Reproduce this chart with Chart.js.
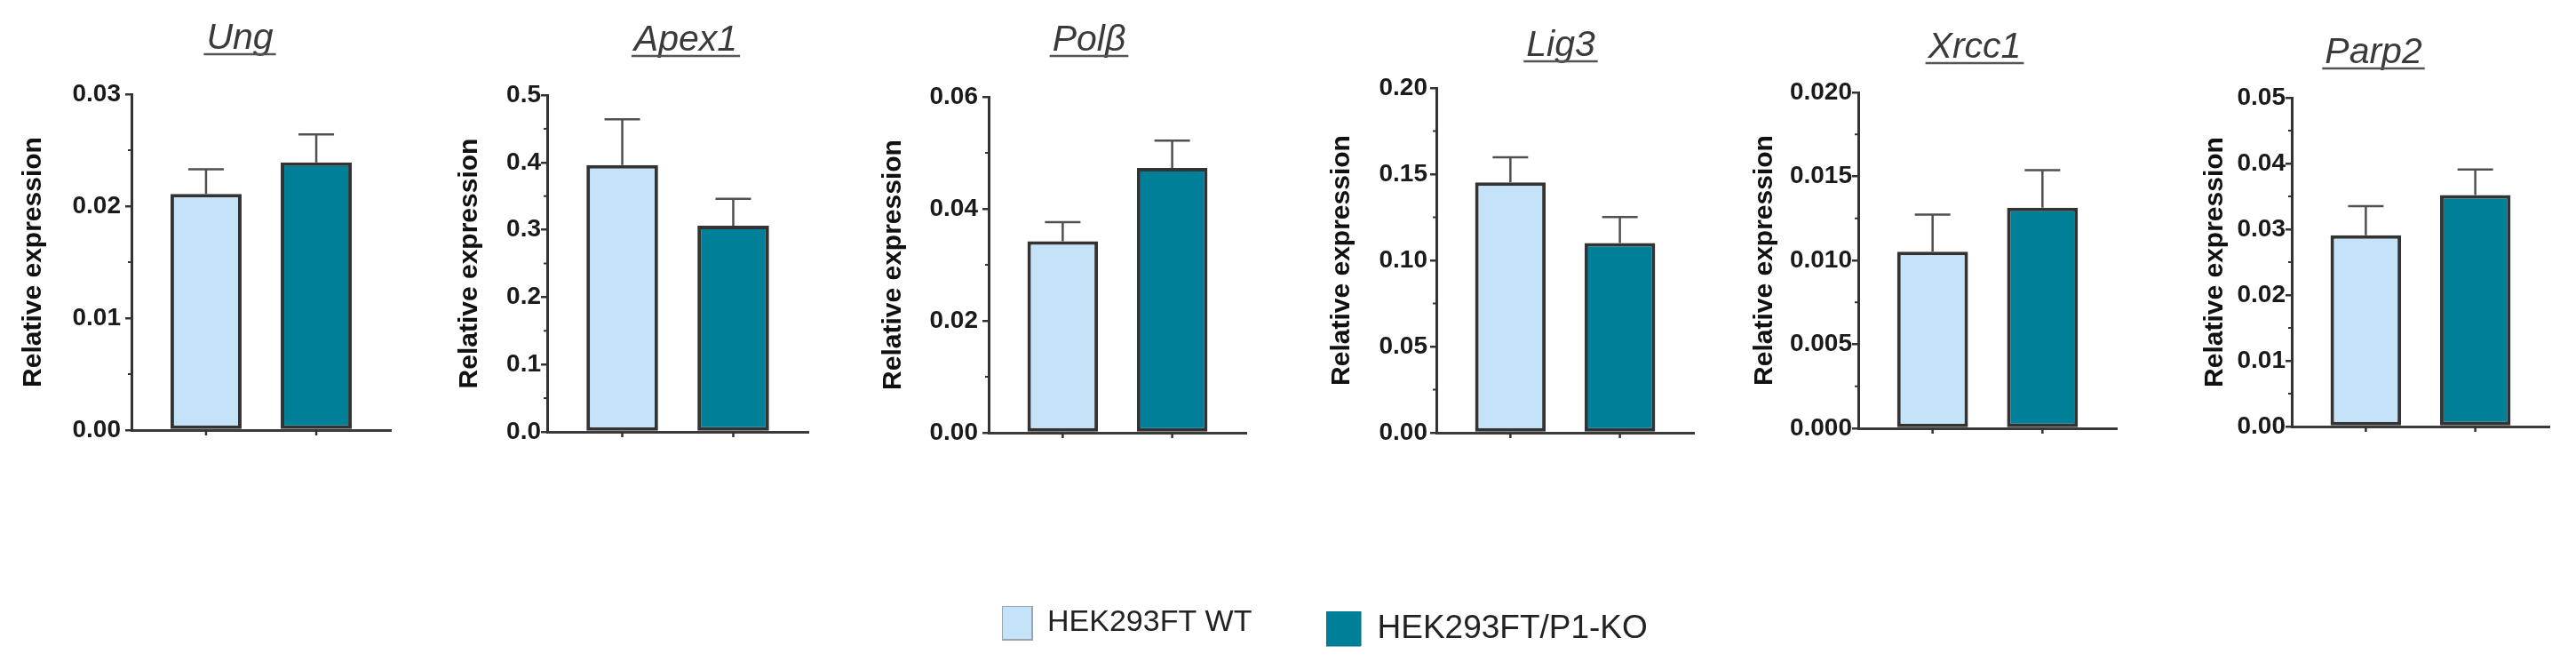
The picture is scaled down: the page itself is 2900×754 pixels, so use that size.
<!DOCTYPE html>
<html>
<head>
<meta charset="utf-8">
<script src="https://cdn.jsdelivr.net/npm/chart.js@4.4.1/dist/chart.umd.min.js"></script>
<style>
  html, body { margin: 0; padding: 0; background: #ffffff; }
  body { width: 2900px; height: 754px; position: relative; overflow: hidden; }
  canvas { position: absolute; }
</style>
</head>
<body>
<script>
// ---------------- DATA ----------------
const genes       = ['Ung', 'Apex1', 'Polβ', 'Lig3', 'Xrcc1', 'Parp2'];
const seriesNames = ['HEK293FT WT', 'HEK293FT/P1-KO'];
const wtValues    = [0.0211, 0.396, 0.0342, 0.1452, 0.01052, 0.0291];
const koValues    = [0.0239, 0.306, 0.0473, 0.1100, 0.01313, 0.0352];
const wtErrors    = [0.0022, 0.068, 0.0034, 0.0146, 0.00221, 0.0044];
const koErrors    = [0.0025, 0.040, 0.0049, 0.0151, 0.00224, 0.0039];
const axisMax     = [0.03, 0.5, 0.06, 0.20, 0.020, 0.05];
const axisStep    = [0.01, 0.1, 0.02, 0.05, 0.005, 0.01];
const tickDecimals= [2, 1, 2, 2, 3, 2];
const yAxisTitle  = 'Relative expression';

// ---------------- LAYOUT (pixels) ----------------
const panelLayout = [
  { axisX: 148,  top: 106, bottom: 484, right: 440,  titleX: 270,  titleBase: 55, yTitlePad: 22, tickPad: 5 },
  { axisX: 616,  top: 107, bottom: 486, right: 910,  titleX: 772,  titleBase: 57, yTitlePad: 45, tickPad: 0 },
  { axisX: 1113, top: 109, bottom: 487, right: 1403, titleX: 1226, titleBase: 57, yTitlePad: 25, tickPad: 5 },
  { axisX: 1617, top: 99,  bottom: 487, right: 1907, titleX: 1757, titleBase: 63, yTitlePad: 26, tickPad: 3 },
  { axisX: 2092, top: 104, bottom: 482, right: 2383, titleX: 2223, titleBase: 65, yTitlePad: 27, tickPad: 0 },
  { axisX: 2580, top: 110, bottom: 480, right: 2870, titleX: 2672, titleBase: 71, yTitlePad: 46, tickPad: 0 }
];
const Y_AXIS_W = 150, X_AXIS_H = 10, PAD_R = 5, CANVAS_H = 560;
const fillColors   = ['#c4e2f8', '#007f99'];
const barBorder    = '#333333';

Chart.defaults.font.family = "'Liberation Sans', Arial, sans-serif";

const decorPlugin = {
  id: 'panelDecor',
  afterDatasetsDraw(chart, args, opts) {
    const ctx = chart.ctx, y = chart.scales.y, area = chart.chartArea;
    ctx.save();
    // error bars (upper only)
    chart.data.datasets.forEach((ds, di) => {
      const el = chart.getDatasetMeta(di).data[0];
      if (!el) return;
      const yTop = y.getPixelForValue(ds.data[0] + opts.errors[di]);
      ctx.strokeStyle = '#505050';
      ctx.lineWidth = 2.5;
      ctx.beginPath();
      ctx.moveTo(el.x, el.y);
      ctx.lineTo(el.x, yTop);
      ctx.moveTo(el.x - 20, yTop);
      ctx.lineTo(el.x + 20, yTop);
      ctx.stroke();
      // x tick under bar
      ctx.strokeStyle = '#333333';
      ctx.lineWidth = 2.5;
      ctx.beginPath();
      ctx.moveTo(el.x, area.bottom);
      ctx.lineTo(el.x, area.bottom + 6);
      ctx.stroke();
    });
    // minor ticks on y axis
    const ticks = y.ticks;
    ctx.strokeStyle = '#333333';
    ctx.lineWidth = 2;
    for (let i = 0; i < ticks.length - 1; i++) {
      const py = y.getPixelForValue((ticks[i].value + ticks[i + 1].value) / 2);
      ctx.beginPath();
      ctx.moveTo(area.left - 4, py);
      ctx.lineTo(area.left, py);
      ctx.stroke();
    }
    // underlined italic title
    ctx.font = "italic 41px 'Liberation Sans', Arial, sans-serif";
    ctx.fillStyle = '#3a3a3a';
    ctx.textAlign = 'center';
    ctx.textBaseline = 'alphabetic';
    ctx.fillText(opts.title, opts.titleX, opts.titleBase);
    const w = ctx.measureText(opts.title).width;
    ctx.strokeStyle = '#555555';
    ctx.lineWidth = 2.5;
    ctx.beginPath();
    ctx.moveTo(opts.titleX - w / 2 - 3, opts.titleBase + 6);
    ctx.lineTo(opts.titleX + w / 2 + 3, opts.titleBase + 6);
    ctx.stroke();
    ctx.restore();
  }
};

genes.forEach((gene, i) => {
  const L = panelLayout[i];
  const canvasLeft = L.axisX - Y_AXIS_W;
  const width = Y_AXIS_W + (L.right - L.axisX) + PAD_R;
  const cv = document.createElement('canvas');
  cv.width = width; cv.height = CANVAS_H;
  cv.style.left = canvasLeft + 'px'; cv.style.top = '0px';
  cv.style.width = width + 'px'; cv.style.height = CANVAS_H + 'px';
  document.body.appendChild(cv);

  new Chart(cv, {
    type: 'bar',
    data: {
      labels: [gene],
      datasets: [
        { label: seriesNames[0], data: [wtValues[i]], backgroundColor: fillColors[0],
          borderColor: barBorder, borderWidth: 4, borderSkipped: false },
        { label: seriesNames[1], data: [koValues[i]], backgroundColor: fillColors[1],
          borderColor: barBorder, borderWidth: 4, borderSkipped: false }
      ]
    },
    options: {
      responsive: false, animation: false, devicePixelRatio: 1,
      categoryPercentage: 0.85, barPercentage: 0.645,
      layout: { padding: { left: 0, right: PAD_R, top: L.top, bottom: CANVAS_H - X_AXIS_H - L.bottom } },
      plugins: {
        legend: { display: false }, tooltip: { enabled: false },
        panelDecor: { errors: [wtErrors[i], koErrors[i]], title: gene,
                      titleX: L.titleX - canvasLeft, titleBase: L.titleBase }
      },
      scales: {
        x: {
          type: 'category', offset: true,
          grid: { display: false }, ticks: { display: false },
          border: { display: true, color: '#3a3a3a', width: 3 },
          afterFit: s => { s.height = X_AXIS_H; }
        },
        y: {
          min: 0, max: axisMax[i],
          ticks: {
            stepSize: axisStep[i],
            callback: v => Number(v).toFixed(tickDecimals[i]),
            font: { size: 28, weight: 'bold' }, color: '#1a1a1a', padding: L.tickPad
          },
          grid: { display: true, drawOnChartArea: false, drawTicks: true, tickLength: 7,
                  color: '#333333', lineWidth: 2.5 },
          border: { display: true, color: '#333333', width: 3 },
          title: { display: true, text: yAxisTitle, color: '#111111',
                   font: { size: 30, weight: 'bold' }, padding: L.yTitlePad },
          afterFit: s => { s.width = Y_AXIS_W; }
        }
      }
    },
    plugins: [decorPlugin]
  });
});

// ---------------- LEGEND ----------------
const legendLayout = [
  { left: 1128, top: 682, box: 34, boxH: 38, font: 34, stroke: '#9aa5ad', sw: 2 },
  { left: 1493, top: 688, box: 39, boxH: 39, font: 37, stroke: '#0a6f85', sw: 1 }
];
seriesNames.forEach((name, k) => {
  const G = legendLayout[k];
  const cv = document.createElement('canvas');
  cv.width = 420; cv.height = 160;
  cv.style.left = G.left + 'px'; cv.style.top = G.top + 'px';
  cv.style.width = '420px'; cv.style.height = '160px';
  document.body.appendChild(cv);
  new Chart(cv, {
    type: 'bar',
    data: { labels: [], datasets: [{ label: name, data: [], backgroundColor: fillColors[k],
                                       borderColor: G.stroke, borderWidth: G.sw }] },
    options: {
      responsive: false, animation: false, devicePixelRatio: 1,
      layout: { padding: 0 },
      scales: { x: { display: false }, y: { display: false } },
      plugins: {
        tooltip: { enabled: false },
        legend: { display: true, position: 'top', align: 'start',
                  labels: { boxWidth: G.box, boxHeight: G.boxH, padding: 0,
                            color: '#222222', font: { size: G.font } } }
      }
    }
  });
});
</script>
</body>
</html>
